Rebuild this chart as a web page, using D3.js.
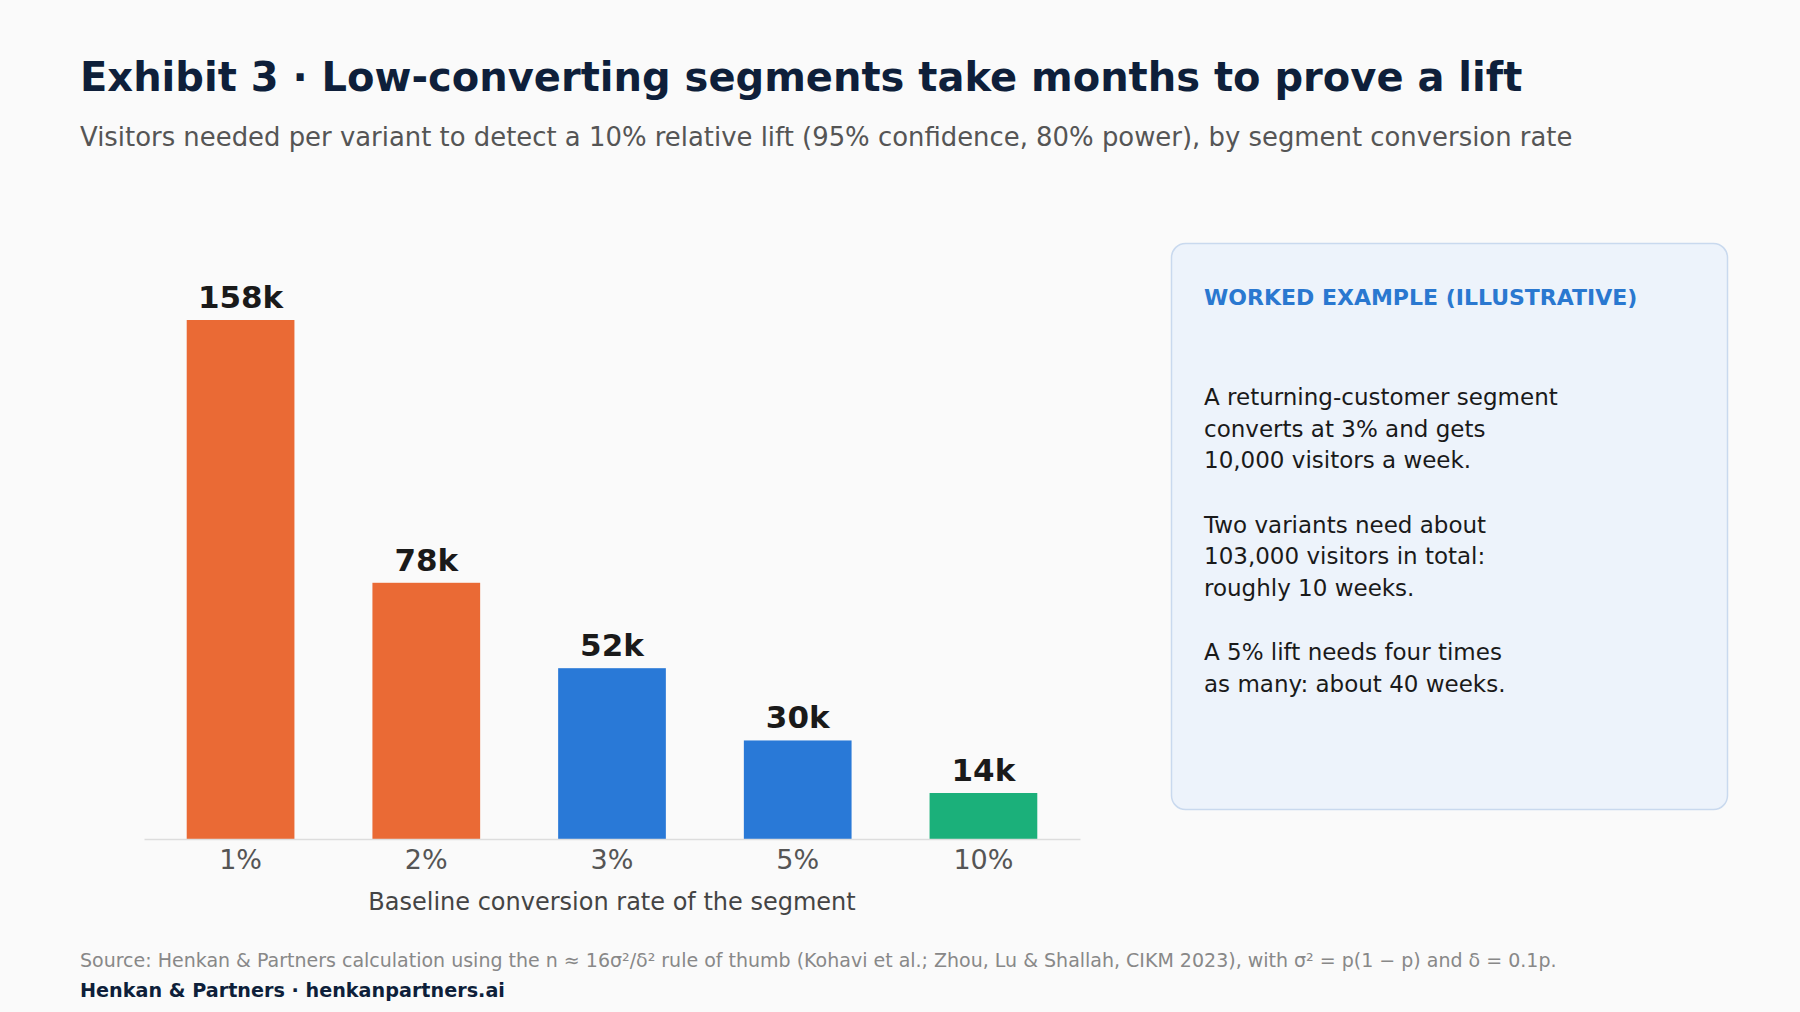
<!DOCTYPE html>
<html>
<head>
<meta charset="utf-8">
<script src="https://cdn.jsdelivr.net/npm/d3@7"></script>
<style>
  html, body { margin: 0; padding: 0; background: #fafafa; }
  svg { display: block; font-family: "DejaVu Sans", sans-serif; }
</style>
</head>
<body>
<svg id="chart" width="1800" height="1012"></svg>
<script>
// data
const categories = ['1%', '2%', '3%', '5%', '10%'];
const visitorsK = [158, 78, 52, 30, 14];
const barGroups = ['high', 'high', 'mid', 'mid', 'low'];
const noteLines = [
  ['A returning-customer segment', 'converts at 3% and gets', '10,000 visitors a week.'],
  ['Two variants need about', '103,000 visitors in total:', 'roughly 10 weeks.'],
  ['A 5% lift needs four times', 'as many: about 40 weeks.']
];

const groupColor = { high: '#ea6a35', mid: '#2979d7', low: '#1bb07a' };
const W = 1800, H = 1012;
const svg = d3.select('#chart');

svg.append('rect').attr('width', W).attr('height', H).attr('fill', '#fafafa');

// 标题
svg.append('text')
  .attr('x', 80).attr('y', 91)
  .attr('font-size', 40).attr('font-weight', 'bold')
  .attr('fill', '#0e1f3a')
  .text('Exhibit 3 · Low-converting segments take months to prove a lift');

svg.append('text')
  .attr('x', 80).attr('y', 146)
  .attr('font-size', 25.9).attr('fill', '#555')
  .text('Visitors needed per variant to detect a 10% relative lift (95% confidence, 80% power), by segment conversion rate');

// 坐标
const plot = { left: 144, right: 1080, top: 320, bottom: 839 };
const x = d3.scaleBand()
  .domain(categories)
  .range([plot.left, plot.right])
  .paddingInner(0.42)
  .paddingOuter(0.23);
const y = d3.scaleLinear()
  .domain([0, d3.max(visitorsK)])
  .range([plot.bottom, plot.top]);

const data = categories.map((c, i) => ({ name: c, value: visitorsK[i], group: barGroups[i] }));

// 柱子
const bars = svg.append('g');
bars.selectAll('rect').data(data).enter()
  .append('rect')
  .attr('x', d => x(d.name))
  .attr('y', d => y(d.value))
  .attr('width', x.bandwidth())
  .attr('height', d => y(0) - y(d.value))
  .attr('fill', d => groupColor[d.group]);

bars.selectAll('text').data(data).enter()
  .append('text')
  .attr('x', d => x(d.name) + x.bandwidth() / 2)
  .attr('y', d => y(d.value) - 12)
  .attr('text-anchor', 'middle')
  .attr('font-size', 31).attr('font-weight', 'bold')
  .attr('fill', '#1a1a1a')
  .text(d => d.value + 'k');

// x 轴
const xAxis = d3.axisBottom(x).tickSize(0).tickPadding(11);
const gx = svg.append('g')
  .attr('transform', `translate(0 ${plot.bottom})`)
  .call(xAxis);
gx.select('path.domain').attr('stroke', '#dddddd').attr('stroke-width', 1.5);
gx.selectAll('text')
  .attr('font-size', 27)
  .attr('font-family', '"DejaVu Sans", sans-serif')
  .attr('fill', '#555');

svg.append('text')
  .attr('x', 612).attr('y', 910)
  .attr('text-anchor', 'middle')
  .attr('font-size', 24).attr('fill', '#444')
  .text('Baseline conversion rate of the segment');

// 说明框
const box = svg.append('g').attr('transform', 'translate(1171 243)');
box.append('rect')
  .attr('x', 0.5).attr('y', 0.5)
  .attr('width', 556).attr('height', 566)
  .attr('rx', 14)
  .attr('fill', '#edf3fb')
  .attr('stroke', '#c9d9ee').attr('stroke-width', 1.5);
box.append('text')
  .attr('x', 33).attr('y', 62)
  .attr('font-size', 22).attr('font-weight', 'bold')
  .attr('fill', '#2a78d0')
  .text('WORKED EXAMPLE (ILLUSTRATIVE)');

let ty = 162;
noteLines.forEach(para => {
  para.forEach(line => {
    box.append('text')
      .attr('x', 33).attr('y', ty)
      .attr('font-size', 23).attr('fill', '#1a1a1a')
      .text(line);
    ty += 31.5;
  });
  ty += 33;
});

// 脚注
svg.append('text')
  .attr('x', 80).attr('y', 967)
  .attr('font-size', 19).attr('fill', '#888')
  .text('Source: Henkan & Partners calculation using the n ≈ 16σ²/δ² rule of thumb (Kohavi et al.; Zhou, Lu & Shallah, CIKM 2023), with σ² = p(1 − p) and δ = 0.1p.');
svg.append('text')
  .attr('x', 80).attr('y', 997)
  .attr('font-size', 19.2).attr('font-weight', 'bold').attr('fill', '#0e1f3a')
  .text('Henkan & Partners · henkanpartners.ai');
</script>
</body>
</html>
